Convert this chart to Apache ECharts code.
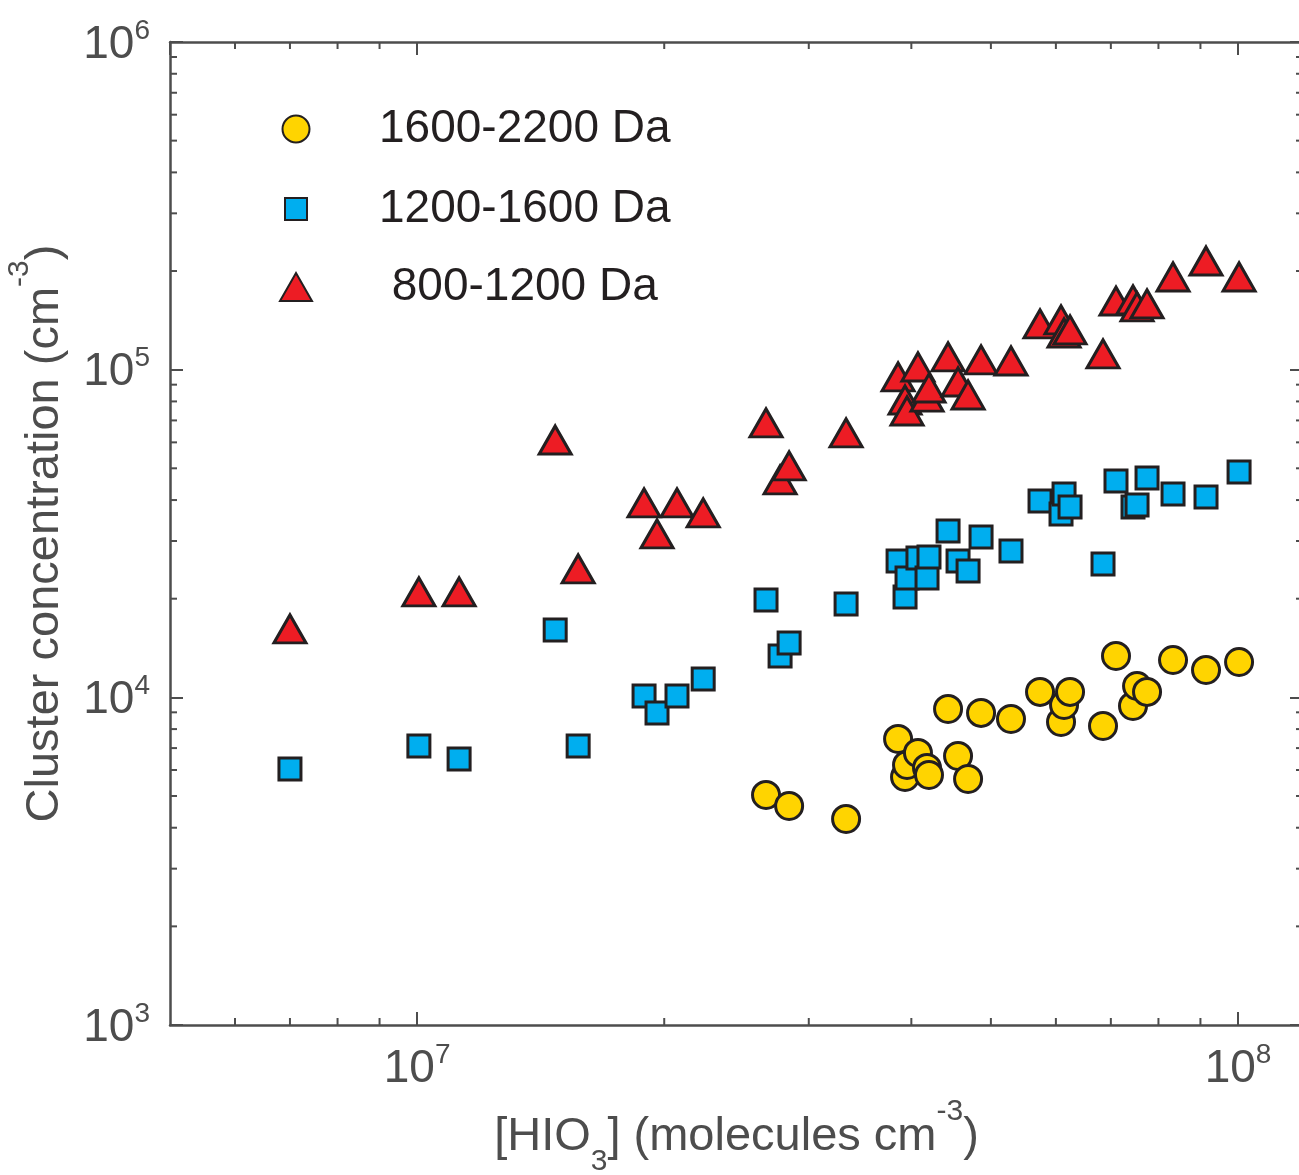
<!DOCTYPE html>
<html>
<head>
<meta charset="utf-8">
<script src="https://cdn.jsdelivr.net/npm/echarts@6/dist/echarts.min.js"></script>
<style>
html,body{margin:0;padding:0;background:#fff;}
#c{width:1299px;height:1175px;}
</style>
</head>
<body>
<div id="c"></div>
<script>
// [HIO3] values (molecules cm^-3), shared by all three series
const hio3 = [7.00e6, 1.005e7, 1.125e7, 1.473e7, 1.571e7, 1.890e7, 1.960e7, 2.073e7, 2.231e7,
  2.661e7, 2.768e7, 2.839e7, 3.331e7, 3.854e7, 3.930e7, 3.952e7, 4.075e7, 4.180e7, 4.203e7,
  4.434e7, 4.560e7, 4.690e7, 4.864e7, 5.290e7, 5.739e7, 6.087e7, 6.139e7, 6.243e7, 6.848e7,
  7.102e7, 7.449e7, 7.534e7, 7.748e7, 8.334e7, 9.142e7, 1.003e8];
// 800-1200 Da cluster concentration (cm^-3)
const c800 = [1.617e4, 2.097e4, 2.097e4, 6.10e4, 2.465e4, 3.92e4, 3.152e4, 3.92e4, 3.653e4,
  6.877e4, 4.607e4, 5.083e4, 6.41e4, 9.50e4, 8.08e4, 7.48e4, 1.019e5, 8.25e4, 8.79e4,
  1.094e5, 9.17e4, 8.37e4, 1.071e5, 1.063e5, 1.379e5, 1.418e5, 1.294e5, 1.322e5, 1.117e5,
  1.620e5, 1.632e5, 1.554e5, 1.587e5, 1.918e5, 2.146e5, 1.918e5];
// 1200-1600 Da
const c1200 = [6046, 7107, 6486, 1.606e4, 7107, 1.010e4, 8965, 1.010e4, 1.138e4,
  1.982e4, 1.338e4, 1.466e4, 1.928e4, 2.608e4, 2.025e4, 2.314e4, 2.664e4, 2.314e4, 2.682e4,
  3.22e4, 2.608e4, 2.431e4, 3.087e4, 2.797e4, 3.975e4, 3.627e4, 4.176e4, 3.811e4, 2.554e4,
  4.575e4, 3.811e4, 3.865e4, 4.672e4, 4.176e4, 4.089e4, 4.873e4];
// 1600-2200 Da
const c1600 = [null, null, null, null, null, null, null, null, null,
  5036, null, 4663, 4255, 7464, 5716, 6219, 6765, 6089, 5797,
  9218, 6625, 5636, 8965, 8594, 1.039e4, 8414, 9480, 1.039e4, 8180,
  1.338e4, 9412, 1.083e4, 1.039e4, 1.300e4, 1.212e4, 1.282e4];

const seriesNames = ['1600-2200 Da', '1200-1600 Da', ' 800-1200 Da'];
const xRange = [5e6, 1.2e8];
const yRange = [1e3, 1e6];
const xMinorTicks = [6e6, 7e6, 8e6, 9e6, 2e7, 3e7, 4e7, 5e7, 6e7, 7e7, 8e7, 9e7];
const yMinorTicks = [2e3, 3e3, 4e3, 5e3, 6e3, 7e3, 8e3, 9e3, 2e4, 3e4, 4e4, 5e4, 6e4, 7e4, 8e4, 9e4,
  2e5, 3e5, 4e5, 5e5, 6e5, 7e5, 8e5, 9e5];

const FONT = '"Liberation Sans", Arial, Helvetica, sans-serif';
const AXC = '#4d4d4d';
const TXT = '#4d4d4d';
const EDGE = '#231f20';

function pairs(arr) {
  return hio3.map((x, i) => [x, arr[i]]).filter(d => d[1] != null);
}
function powLabel(v) {
  const e = Math.log10(v);
  if (Math.abs(e - Math.round(e)) > 1e-6) return '';
  return '{b|10}{s|' + Math.round(e) + '}';
}
const tickRich = {
  b: {fontSize: 46, lineHeight: 50, padding: [6, 0, 0, 0], color: TXT, fontFamily: FONT},
  s: {fontSize: 28, lineHeight: 30, verticalAlign: 'top', color: TXT, fontFamily: FONT}
};
const nameRich = {
  n: {fontSize: 47, lineHeight: 80, color: TXT, fontFamily: FONT},
  sup: {fontSize: 30, lineHeight: 40, verticalAlign: 'top', color: TXT, fontFamily: FONT},
  sub: {fontSize: 30, lineHeight: 24, verticalAlign: 'bottom', color: TXT, fontFamily: FONT}
};

const chart = echarts.init(document.getElementById('c'), null, {renderer: 'canvas'});

function legendFor(name, top, w, h) {
  return {
    data: [name], left: 295 - w / 2, top: top, orient: 'vertical', padding: 0,
    itemWidth: w, itemHeight: h, selectedMode: false,
    textStyle: {fontSize: 46, lineHeight: 50, color: '#231f20', fontFamily: FONT,
      padding: [0, 0, 0, 83 - w / 2 - 5]}
  };
}

const tickSeries = {
  type: 'custom', silent: true, clip: false, z: 10,
  data: xMinorTicks.map(v => [v, 0]).concat(yMinorTicks.map(v => [1, v])),
  encode: {x: 0, y: 1},
  renderItem: function (params, api) {
    const a = api.value(0), b = api.value(1);
    const L = 7;
    const st = {stroke: AXC, lineWidth: 2};
    if (b === 0) {
      const p1 = api.coord([a, yRange[0]]);
      const p2 = api.coord([a, yRange[1]]);
      return {type: 'group', children: [
        {type: 'line', shape: {x1: p1[0], y1: p1[1], x2: p1[0], y2: p1[1] - L}, style: st},
        {type: 'line', shape: {x1: p2[0], y1: p2[1], x2: p2[0], y2: p2[1] + L}, style: st}
      ]};
    } else {
      const p1 = api.coord([xRange[0], b]);
      const p2 = api.coord([xRange[1], b]);
      return {type: 'group', children: [
        {type: 'line', shape: {x1: p1[0], y1: p1[1], x2: p1[0] + L, y2: p1[1]}, style: st},
        {type: 'line', shape: {x1: p2[0], y1: p2[1], x2: p2[0] - L, y2: p2[1]}, style: st}
      ]};
    }
  }
};

const baseX = {
  type: 'log', logBase: 10, min: xRange[0], max: xRange[1],
  axisLine: {lineStyle: {color: AXC, width: 2.5}},
  axisTick: {inside: true, length: 13, lineStyle: {color: AXC, width: 2}},
  splitLine: {show: false}, minorTick: {show: false}
};
const baseY = {
  type: 'log', logBase: 10, min: yRange[0], max: yRange[1],
  axisLine: {lineStyle: {color: AXC, width: 2.5}},
  axisTick: {inside: true, length: 13, lineStyle: {color: AXC, width: 2}},
  splitLine: {show: false}, minorTick: {show: false}
};

chart.setOption({
  animation: false,
  backgroundColor: '#fff',
  grid: {left: 170, right: -4, top: 42, bottom: 150, containLabel: false, outerBoundsMode: 'none'},
  legend: [
    legendFor(seriesNames[0], 104, 27, 27),
    legendFor(seriesNames[1], 184, 22, 22),
    legendFor(seriesNames[2], 262, 32, 28)
  ],
  xAxis: [
    Object.assign({}, baseX, {
      position: 'bottom',
      name: '{n|[HIO}{sub|3}{n|] (molecules cm}{sup|-3}{n|)}',
      nameLocation: 'middle', nameGap: 68,
      nameTextStyle: {rich: nameRich},
      axisLabel: {margin: 16, formatter: powLabel, rich: tickRich, showMinLabel: false, showMaxLabel: false}
    }),
    Object.assign({}, baseX, {position: 'top', axisLabel: {show: false}})
  ],
  yAxis: [
    Object.assign({}, baseY, {
      position: 'left',
      name: '{n|Cluster concentration (cm}{sup|-3}{n|)}',
      nameLocation: 'middle', nameGap: 85, nameRotate: 90,
      nameTextStyle: {rich: nameRich},
      axisLabel: {margin: 20, formatter: powLabel, rich: tickRich}
    }),
    Object.assign({}, baseY, {position: 'right', axisLabel: {show: false}})
  ],
  series: [
    {
      name: seriesNames[2], type: 'scatter', data: pairs(c800),
      symbol: 'triangle', symbolSize: [32, 28],
      itemStyle: {color: '#ed1c24', borderColor: EDGE, borderWidth: 3, opacity: 1}
    },
    {
      name: seriesNames[1], type: 'scatter', data: pairs(c1200),
      symbol: 'rect', symbolSize: 22,
      itemStyle: {color: '#00aeef', borderColor: EDGE, borderWidth: 3, opacity: 1}
    },
    {
      name: seriesNames[0], type: 'scatter', data: pairs(c1600),
      symbol: 'circle', symbolSize: 27,
      itemStyle: {color: '#ffd400', borderColor: EDGE, borderWidth: 3, opacity: 1}
    },
    tickSeries
  ]
});
</script>
</body>
</html>
